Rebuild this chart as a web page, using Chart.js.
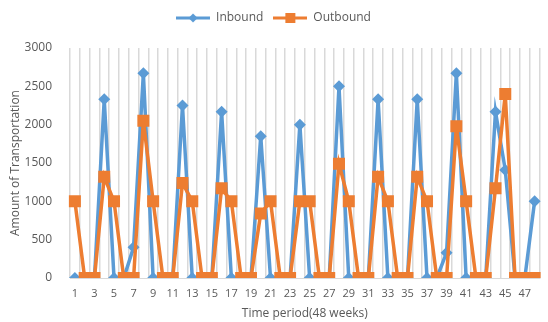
<!DOCTYPE html>
<html lang="en">
<head>
    <meta charset="UTF-8">
    <title>Inbound / Outbound</title>
    <script src="https://cdn.jsdelivr.net/npm/chart.js"></script>
    <style>
        body { margin: 0; background: #ffffff; }
        .chart-container { width: 548px; height: 322px; }
    </style>
</head>
<body>
    <div class="chart-container">
        <canvas id="transportChart"></canvas>
    </div>

    <script>
        // Weeks 1..48
        const weeks = ['1','2','3','4','5','6','7','8','9','10','11','12','13','14','15','16',
                       '17','18','19','20','21','22','23','24','25','26','27','28','29','30','31','32',
                       '33','34','35','36','37','38','39','40','41','42','43','44','45','46','47','48'];

        const inbound = [0, 0, 0, 2330, 0, 0, 400, 2670, 0, 0, 0, 2250, 0, 0, 0, 2170,
                         0, 0, 0, 1850, 0, 0, 0, 2000, 0, 0, 0, 2500, 0, 0, 0, 2330,
                         0, 0, 0, 2330, 0, 0, 330, 2670, 0, 0, 0, 2170, 1410, 0, 0, 1000];

        const outbound = [1000, 0, 0, 1320, 1000, 0, 0, 2050, 1000, 0, 0, 1240, 1000, 0, 0, 1170,
                          1000, 0, 0, 840, 1000, 0, 0, 1000, 1000, 0, 0, 1490, 1000, 0, 0, 1320,
                          1000, 0, 0, 1320, 1000, 0, 0, 1980, 1000, 0, 0, 1170, 2400, 0, 0, 0];

        const yTicks = [0, 500, 1000, 1500, 2000, 2500, 3000];

        const blue = '#5B9BD5';
        const orange = '#ED7D31';
        const textColor = '#595959';
        const fontFamily = "'Open Sans', 'Liberation Sans', sans-serif";

        // legend icon: short line with the marker in the middle
        function legendIcon(color, shape) {
            const c = document.createElement('canvas');
            c.width = 34;
            c.height = 12;
            const g = c.getContext('2d');
            g.strokeStyle = color;
            g.lineWidth = 3;
            g.beginPath();
            g.moveTo(0, 6);
            g.lineTo(34, 6);
            g.stroke();
            g.fillStyle = color;
            if (shape === 'diamond') {
                g.beginPath();
                g.moveTo(17, 1.5);
                g.lineTo(21.5, 6);
                g.lineTo(17, 10.5);
                g.lineTo(12.5, 6);
                g.closePath();
                g.fill();
            } else {
                g.fillRect(12, 1, 10, 10);
            }
            return c;
        }

        const icons = [legendIcon(blue, 'diamond'), legendIcon(orange, 'square')];

        // some extra room under the legend
        const legendGap = {
            id: 'legendGap',
            beforeInit(chart) {
                const fit = chart.legend.fit;
                chart.legend.fit = function () {
                    fit.bind(chart.legend)();
                    this.height += 14;
                };
            }
        };

        const ctx = document.getElementById('transportChart').getContext('2d');
        new Chart(ctx, {
            type: 'line',
            data: {
                labels: weeks,
                datasets: [{
                    label: 'Inbound',
                    data: inbound,
                    order: 1, // drawn under the orange series
                    borderColor: blue,
                    backgroundColor: blue,
                    borderWidth: 3.5,
                    pointStyle: 'rectRot',
                    pointRadius: 6,
                    pointBackgroundColor: blue,
                    pointBorderWidth: 0,
                    tension: 0
                }, {
                    label: 'Outbound',
                    data: outbound,
                    order: 0,
                    borderColor: orange,
                    backgroundColor: orange,
                    borderWidth: 3.5,
                    pointStyle: 'rect',
                    pointRadius: 8.5,
                    pointBackgroundColor: orange,
                    pointBorderWidth: 0,
                    tension: 0
                }]
            },
            options: {
                responsive: true,
                maintainAspectRatio: false,
                animation: false,
                layout: { padding: { top: 2, right: 3, left: 2, bottom: 0 } },
                scales: {
                    x: {
                        offset: true,
                        afterFit: function (axis) {
                            axis.height = 44;
                        },
                        grid: {
                            offset: true,
                            color: '#d9d9d9',
                            lineWidth: 1.5,
                            drawTicks: false
                        },
                        border: { display: true, color: '#d9d9d9' },
                        ticks: {
                            autoSkip: false,
                            maxRotation: 0,
                            padding: 9,
                            color: textColor,
                            font: { family: fontFamily, size: 11 },
                            callback: function (val, i) {
                                return i % 2 === 0 ? weeks[i] : '';
                            }
                        },
                        title: {
                            display: true,
                            text: 'Time period(48 weeks)',
                            color: textColor,
                            font: { family: fontFamily, size: 12 },
                            padding: { top: 3, bottom: 1 }
                        }
                    },
                    y: {
                        min: 0,
                        max: 3000,
                        afterBuildTicks: function (axis) {
                            axis.ticks = yTicks.map(v => ({ value: v }));
                        },
                        afterFit: function (axis) {
                            axis.width = 68;
                        },
                        grid: { display: false },
                        border: { display: false },
                        ticks: {
                            padding: 10,
                            color: textColor,
                            font: { family: fontFamily, size: 12 },
                            callback: function (val) {
                                return String(val);
                            }
                        },
                        title: {
                            display: true,
                            text: 'Amount of Transportation',
                            color: textColor,
                            font: { family: fontFamily, size: 12 },
                            padding: { top: 6, bottom: 0 }
                        }
                    }
                },
                plugins: {
                    legend: {
                        position: 'top',
                        labels: {
                            usePointStyle: true,
                            pointStyleWidth: 34,
                            padding: 10,
                            color: textColor,
                            font: { family: fontFamily, size: 12 },
                            generateLabels: function (chart) {
                                return chart.data.datasets.map((ds, i) => ({
                                    text: ds.label,
                                    pointStyle: icons[i],
                                    fillStyle: ds.borderColor,
                                    strokeStyle: ds.borderColor,
                                    lineWidth: 0,
                                    fontColor: textColor,
                                    datasetIndex: i,
                                    hidden: false
                                }));
                            }
                        }
                    },
                    tooltip: { enabled: false }
                }
            },
            plugins: [legendGap]
        });
    </script>
</body>
</html>
